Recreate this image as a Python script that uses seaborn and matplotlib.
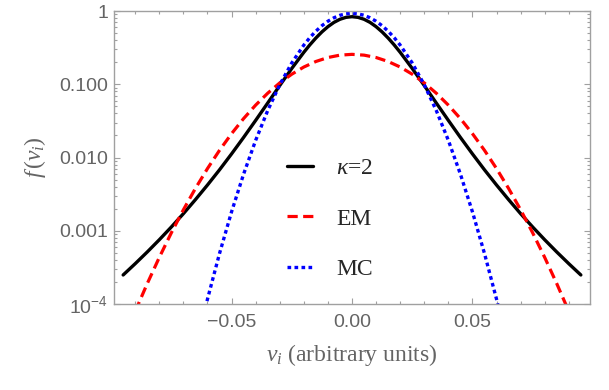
import matplotlib
matplotlib.use("Agg")
import matplotlib.pyplot as plt
import matplotlib.ticker as mticker
import seaborn as sns

# ---- data ----
kappa_v = [-0.095, -0.09, -0.085, -0.08, -0.075, -0.07, -0.065, -0.06, -0.055, -0.05,
           -0.045, -0.04, -0.035, -0.03, -0.025, -0.02, -0.0175, -0.015, -0.0125, -0.01,
           -0.0075, -0.005, -0.0025, 0.0, 0.0025, 0.005, 0.0075, 0.01, 0.0125, 0.015,
           0.0175, 0.02, 0.025, 0.03, 0.035, 0.04, 0.045, 0.05, 0.055, 0.06, 0.065,
           0.07, 0.075, 0.08, 0.085, 0.09, 0.095]
kappa_f = [0.000249, 0.000355, 0.000513, 0.000753, 0.001125, 0.00171, 0.00266, 0.00421,
           0.00679, 0.0112, 0.0188, 0.0321, 0.0554, 0.0960, 0.1644, 0.2729, 0.345, 0.4275,
           0.518, 0.611, 0.699, 0.771, 0.819, 0.836, 0.819, 0.771, 0.699, 0.611, 0.518,
           0.4275, 0.345, 0.2729, 0.1644, 0.0960, 0.0554, 0.0321, 0.0188, 0.0112, 0.00679,
           0.00421, 0.00266, 0.00171, 0.001125, 0.000753, 0.000513, 0.000355, 0.000249]

em_v = [-0.09, -0.085, -0.08, -0.075, -0.07, -0.065, -0.06, -0.055, -0.05, -0.045,
        -0.04, -0.035, -0.03, -0.025, -0.02, -0.015, -0.01, -0.005, 0.0, 0.005, 0.01,
        0.015, 0.02, 0.025, 0.03, 0.035, 0.04, 0.045, 0.05, 0.055, 0.06, 0.065, 0.07,
        0.075, 0.08, 0.085, 0.09]
em_f = [0.0000794, 0.0001898, 0.000432, 0.000937, 0.001931, 0.003784, 0.00706, 0.01253,
        0.02115, 0.0340, 0.0519, 0.0754, 0.1043, 0.1372, 0.1718, 0.2045, 0.2317, 0.2497,
        0.256, 0.2497, 0.2317, 0.2045, 0.1718, 0.1372, 0.1043, 0.0754, 0.0519, 0.0340,
        0.02115, 0.01253, 0.00706, 0.003784, 0.001931, 0.000937, 0.000432, 0.0001898,
        0.0000794]

mc_v = [-0.065, -0.06, -0.055, -0.05, -0.045, -0.04, -0.035, -0.03, -0.025, -0.02,
        -0.0175, -0.015, -0.0125, -0.01, -0.0075, -0.005, -0.0025, 0.0, 0.0025, 0.005,
        0.0075, 0.01, 0.0125, 0.015, 0.0175, 0.02, 0.025, 0.03, 0.035, 0.04, 0.045,
        0.05, 0.055, 0.06, 0.065]
mc_f = [0.0000245, 0.0001163, 0.000489, 0.001812, 0.005932, 0.01714, 0.04370, 0.09837,
        0.1954, 0.3426, 0.4330, 0.5303, 0.6296, 0.7246, 0.8082, 0.8737, 0.9156, 0.93,
        0.9156, 0.8737, 0.8082, 0.7246, 0.6296, 0.5303, 0.4330, 0.3426, 0.1954, 0.09837,
        0.04370, 0.01714, 0.005932, 0.001812, 0.000489, 0.0001163, 0.0000245]

series_labels = [r"$\kappa$=2", "EM", "MC"]
x_ticks = [-0.05, 0.0, 0.05]
x_tick_labels = ["\u22120.05", "0.00", "0.05"]
y_ticks = [1e-4, 1e-3, 1e-2, 1e-1, 1.0]
y_tick_labels = [r"$\mathsf{10^{-4}}$", "0.001", "0.010", "0.100", "1"]

# ---- style ----
sns.set_theme(style="white")
plt.rcParams["font.family"] = ["Liberation Sans", "DejaVu Sans"]
plt.rcParams["mathtext.fontset"] = "custom"
plt.rcParams["mathtext.rm"] = "Liberation Serif"
plt.rcParams["mathtext.it"] = "Liberation Serif:italic"
plt.rcParams["mathtext.sf"] = "Liberation Sans"

frame_col = "#a0a0a0"
text_col = "#646464"

fig = plt.figure(figsize=(6.09, 3.90), dpi=100)
ax = fig.add_axes([114 / 609, 1 - 304 / 390, 476 / 609, 293 / 390])

sns.lineplot(x=kappa_v, y=kappa_f, ax=ax, color="black", linewidth=2.4,
             estimator=None, sort=False, legend=False)
sns.lineplot(x=em_v, y=em_f, ax=ax, color="#ff0000", linewidth=2.3,
             linestyle=(0, (3.2, 1.7)), estimator=None, sort=False, legend=False)
sns.lineplot(x=mc_v, y=mc_f, ax=ax, color="#0000ff", linewidth=2.4,
             linestyle=(0, (1.1, 1.0)), estimator=None, sort=False, legend=False)
for ln in ax.get_lines():
    ln.set_dash_capstyle("butt")

ax.set_yscale("log")
ax.set_xlim(-0.0988, 0.0988)
ax.set_ylim(1e-4, 1.0)

ax.xaxis.set_major_locator(mticker.FixedLocator(x_ticks))
ax.xaxis.set_major_formatter(mticker.FixedFormatter(x_tick_labels))
ax.xaxis.set_minor_locator(mticker.MultipleLocator(0.01))
ax.yaxis.set_major_locator(mticker.FixedLocator(y_ticks))
ax.yaxis.set_major_formatter(mticker.FixedFormatter(y_tick_labels))
ax.yaxis.set_minor_locator(mticker.LogLocator(base=10, subs=[2, 3, 4, 5, 6, 7, 8, 9]))
ax.yaxis.set_minor_formatter(mticker.NullFormatter())

for sp in ax.spines.values():
    sp.set_visible(True)
    sp.set_color(frame_col)
    sp.set_linewidth(1.0)

ax.tick_params(which="both", direction="in", top=True, right=True,
               bottom=True, left=True, color=frame_col, width=0.8,
               labelcolor=text_col, labelsize=14)
ax.tick_params(which="major", length=4.5)
ax.tick_params(which="minor", length=2.5)
ax.tick_params(axis="x", which="both", pad=7)
ax.tick_params(axis="y", which="both", pad=4)

ax.set_xlabel(r"$v_i$ (arbitrary units)", family="Liberation Serif",
              fontsize=17, color=text_col, labelpad=8)
ax.set_ylabel(r"$f\,(v_i)$", fontsize=17, color=text_col, labelpad=8)

lines = ax.get_lines()
leg = ax.legend(lines, series_labels, frameon=False, loc="center",
                bbox_to_anchor=((330 - 114) / 476, (304 - 219) / 293),
                prop={"family": "Liberation Serif", "size": 17},
                handlelength=1.1, handletextpad=1.0, labelspacing=1.22,
                borderpad=0.0)

fig.savefig("out.png", dpi=100)
